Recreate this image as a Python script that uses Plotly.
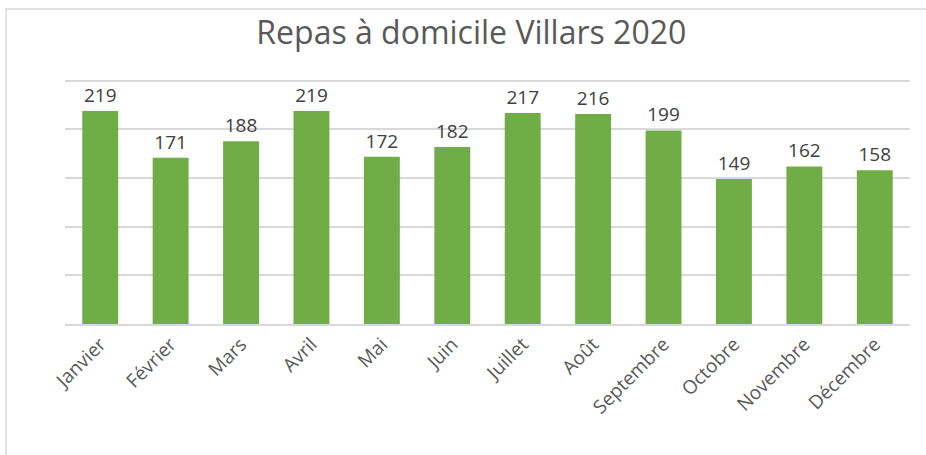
import plotly.graph_objects as go

months = ["Janvier", "Février", "Mars", "Avril", "Mai", "Juin", "Juillet", "Août",
          "Septembre", "Octobre", "Novembre", "Décembre"]
repas = [219, 171, 188, 219, 172, 182, 217, 216, 199, 149, 162, 158]
title = "Repas à domicile Villars 2020"

fig = go.Figure(go.Bar(
    x=months, y=repas,
    marker=dict(color="#70AD47", line=dict(width=0)),
    text=[str(v) for v in repas], textposition="outside",
    textfont=dict(family="Open Sans", size=19, color="#404040"),
    cliponaxis=False,
))

fig.update_layout(
    width=926, height=455,
    margin=dict(l=65, r=16, t=76, b=131),
    paper_bgcolor="white", plot_bgcolor="white",
    bargap=0.49,
    showlegend=False,
    title=dict(text=title, x=0.509, xanchor="center", y=0.927, yanchor="middle",
               font=dict(family="Open Sans", size=32, color="#595959")),
    xaxis=dict(tickangle=-45, tickfont=dict(family="Open Sans", size=19, color="#595959"),
               showline=True, linecolor="#D9D9D9", linewidth=1.5, ticks="", showgrid=False),
    yaxis=dict(range=[0, 255], tickvals=[50, 100, 150, 200, 250], showticklabels=False,
               gridcolor="#D9D9D9", gridwidth=1.5, zeroline=False, showline=False, ticks=""),
    shapes=[dict(type="rect", xref="paper", yref="paper",
                 x0=(6 - 65) / 845, x1=1.2, y0=-1.0, y1=(324 - 9) / 248,
                 line=dict(color="#D9D9D9", width=1.5), fillcolor="rgba(0,0,0,0)", layer="below")],
)

fig.write_html("out.html")
